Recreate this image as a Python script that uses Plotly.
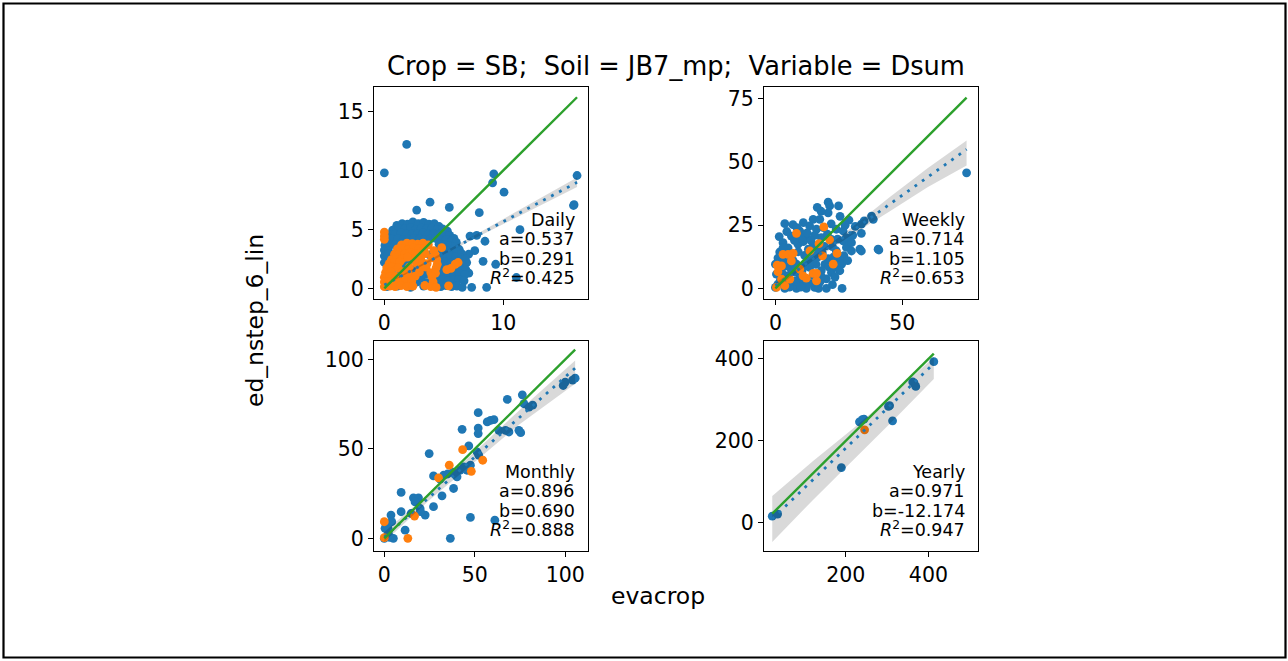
import plotly.graph_objects as go

# ---------------- data ----------------
panel_names = ["Daily", "Weekly", "Monthly", "Yearly"]
fit_a = [0.537, 0.714, 0.896, 0.971]
fit_b = [0.291, 1.105, 0.690, -12.174]
fit_r2 = [0.425, 0.653, 0.888, 0.947]

daily_blue = [
    (1.88, 12.2), (0.0, 9.8), (9.2, 9.7), (9.1, 8.95), (10.06, 8.16), (16.2, 9.57),
    (15.9, 7.03), (15.95, 7.1), (3.84, 7.31), (2.72, 6.64), (5.46, 6.87), (7.98, 6.42),
    (11.4, 4.98), (7.2, 4.44), (7.76, 4.5), (8.46, 4.0), (7.6, 3.2), (8.3, 2.3),
    (9.36, 2.05), (11.1, 0.93), (8.6, 0.1), (7.34, 0.1), (7.09, 2.9), (6.92, 2.19),
    (1.05, 5.35), (1.5, 5.5), (1.95, 5.45), (2.4, 5.65), (2.85, 5.5), (3.3, 5.6),
    (3.75, 5.45), (4.2, 5.5), (4.6, 5.25),
    (0.7, 4.95), (1.2, 5.1), (1.7, 5.05), (2.2, 5.15), (2.65, 5.0), (3.1, 5.1),
    (3.55, 5.05), (4.0, 5.1), (4.45, 5.0), (4.9, 5.05), (5.3, 4.85),
    (0.45, 4.55), (0.9, 4.6), (1.4, 4.7), (1.85, 4.6), (2.35, 4.65), (2.8, 4.6),
    (3.25, 4.7), (3.7, 4.6), (4.15, 4.65), (4.6, 4.6), (5.05, 4.55), (5.5, 4.5), (5.85, 4.25),
    (0.25, 4.1), (0.7, 4.2), (1.15, 4.25), (1.6, 4.15), (2.05, 4.2), (2.5, 4.25),
    (2.95, 4.2), (3.4, 4.15), (3.85, 4.2), (4.3, 4.25), (4.75, 4.1), (5.2, 4.15),
    (5.65, 4.05), (6.05, 3.9),
    (0.05, 3.65), (0.4, 3.75), (0.85, 3.7), (4.6, 3.75), (5.05, 3.7), (5.5, 3.6),
    (5.95, 3.55), (6.3, 3.3),
    (0.0, 3.25), (0.35, 3.2), (4.75, 3.2), (5.2, 3.25), (5.65, 3.15), (6.1, 3.1), (6.5, 2.95),
    (0.0, 2.75), (4.65, 2.7), (5.1, 2.65), (5.55, 2.75), (6.0, 2.65), (6.45, 2.6), (6.8, 2.5),
    (0.0, 2.2), (4.7, 2.2), (5.15, 2.25), (5.6, 2.15), (6.05, 2.2), (6.5, 2.1),
    (4.6, 1.7), (5.05, 1.65), (5.5, 1.75), (5.95, 1.7), (6.4, 1.65), (6.85, 1.6), (7.1, 1.3),
    (4.5, 1.2), (4.95, 1.25), (5.4, 1.15), (5.85, 1.2), (6.3, 1.25), (6.75, 1.15),
    (4.45, 0.7), (4.9, 0.75), (5.35, 0.65), (5.8, 0.7), (6.25, 0.75), (6.7, 0.65),
    (0.2, 0.15), (1.1, 0.2), (2.2, 0.1), (3.3, 0.2), (4.3, 0.2), (4.75, 0.15),
    (5.2, 0.25), (5.65, 0.15), (6.1, 0.2), (6.55, 0.1),
    (1.25, 1.05), (2.75, 0.55), (3.45, 1.2), (2.2, 2.45), (3.8, 2.85), (1.7, 2.0),
    (3.0, 3.1), (0.6, 1.4), (3.1, 0.9), (3.6, 0.5), (2.4, 1.6), (0.3, 2.9),
]
daily_orange = [
    (0.0, 4.16), (0.0, 4.44), (0.0, 4.78),
    (1.45, 3.7), (1.9, 3.85), (2.35, 3.8), (2.8, 3.75), (3.25, 3.85), (3.7, 3.7), (4.82, 3.46),
    (1.1, 3.35), (1.55, 3.4), (2.0, 3.3), (2.45, 3.45), (2.9, 3.35), (3.35, 3.4), (4.15, 3.2),
    (0.85, 2.9), (1.25, 3.0), (1.7, 2.9), (2.15, 3.05), (2.6, 2.95), (3.45, 2.95), (4.3, 2.85),
    (0.6, 2.45), (1.05, 2.6), (1.5, 2.5), (1.95, 2.65), (2.6, 2.55), (3.05, 2.6),
    (4.0, 2.6), (4.4, 2.45),
    (0.4, 2.1), (0.85, 2.2), (1.3, 2.25), (2.7, 2.15), (3.2, 2.2), (3.6, 2.1),
    (4.45, 2.05), (6.2, 2.2), (5.95, 2.05),
    (0.2, 1.75), (0.65, 1.8), (1.15, 1.75), (2.1, 1.8), (3.0, 1.75), (3.5, 1.8),
    (4.35, 1.75), (5.6, 1.7), (5.25, 1.6),
    (0.1, 1.35), (0.55, 1.4), (1.55, 1.4), (2.0, 1.35), (2.95, 1.4), (3.9, 1.35), (4.3, 1.3),
    (0.0, 0.95), (0.45, 1.0), (0.9, 1.05), (1.7, 0.95), (2.15, 1.0), (2.6, 1.05),
    (4.0, 1.0),
    (0.0, 0.55), (0.4, 0.6), (0.85, 0.65), (1.3, 0.55), (1.8, 0.6), (2.3, 0.6),
    (4.1, 0.55),
    (0.0, 0.15), (0.45, 0.2), (0.9, 0.15), (1.4, 0.25), (1.9, 0.15), (2.4, 0.2),
    (3.4, 0.25), (3.9, 0.15), (4.35, 0.1), (5.4, 0.22),
]

weekly_blue = [
    (20.8, 34.1), (21.4, 32.6), (24.9, 32.6), (20.8, 29.9), (14.9, 27.3), (17.5, 27.3),
    (3.7, 25.6), (6.9, 25.2), (13.5, 24.7), (16.2, 23.4), (24.0, 23.4), (26.7, 22.7),
    (9.6, 22.7), (6.3, 20.7), (12.2, 20.7), (18.1, 20.1), (22.1, 19.4), (26.7, 18.8),
    (29.3, 18.1), (28.0, 16.2), (33.3, 15.5), (40.5, 15.5), (3.0, 18.1), (8.9, 17.5),
    (14.9, 17.1), (19.4, 16.6), (24.0, 14.9), (1.7, 14.4), (6.3, 13.8), (11.5, 13.1),
    (16.8, 12.5), (20.8, 11.8), (25.4, 11.2), (0.0, 9.6), (4.3, 8.9), (8.3, 9.6),
    (13.5, 8.3), (18.1, 7.0), (22.1, 6.3), (24.0, 8.3), (0.4, 5.7), (5.0, 5.1),
    (9.6, 4.4), (14.9, 5.1), (20.1, 3.8), (1.0, 1.7), (6.3, 1.0), (10.9, 2.1),
    (15.5, 0.4), (20.1, 0.0), (26.3, 0.0), (0.0, 0.4), (3.7, 0.0), (8.3, 0.0), (12.2, 0.0),
    (37.9, 28.6), (38.6, 27.3), (35.0, 26.7), (33.9, 25.4), (33.9, 21.8), (28.0, 20.1),
    (30.0, 18.1), (30.0, 14.8), (33.9, 14.8), (40.8, 15.2), (26.1, 9.6), (25.4, 7.0),
    (75.4, 45.7), (11.0, 26.0), (8.5, 24.0), (19.0, 24.0), (15.5, 21.0), (11.0, 18.5),
    (17.0, 15.0), (2.5, 11.5), (7.0, 11.0), (13.0, 11.0), (10.5, 7.0), (16.0, 9.5),
    (19.5, 9.5), (2.5, 6.5), (7.5, 6.5), (12.0, 4.0), (17.5, 2.5), (4.0, 3.0),
    (22.5, 16.5), (27.0, 13.0), (22.0, 25.5), (18.0, 30.5), (13.0, 15.5), (5.0, 16.0),
    (1.5, 20.5), (4.5, 22.5), (10.0, 20.0), (14.0, 19.0), (20.5, 21.5), (24.5, 19.5),
    (23.0, 12.5), (18.5, 14.0), (15.0, 13.0), (9.0, 14.5), (4.0, 11.0), (1.0, 12.0),
    (6.0, 8.0), (11.5, 9.0), (14.5, 10.5), (21.0, 8.5), (23.5, 4.5), (18.0, 5.0),
    (8.0, 3.0), (13.5, 2.0), (2.0, 3.5), (5.5, 0.5), (10.0, 0.5), (17.0, 0.0),
    (22.5, 1.5), (27.5, 25.0), (25.5, 28.5), (16.5, 32.0), (12.5, 22.0), (7.5, 19.0),
    (3.0, 16.0), (28.5, 11.0), (30.5, 21.0), (31.5, 24.5), (29.0, 27.0),
]
weekly_orange = [
    (19.1, 24.3), (8.3, 21.8), (17.2, 17.7), (21.4, 19.2), (13.6, 14.8), (3.0, 13.5),
    (5.0, 13.5), (7.0, 13.9), (18.6, 12.9), (24.3, 13.9), (22.8, 9.6), (0.7, 9.2),
    (2.4, 8.9), (9.6, 7.6), (14.9, 6.0), (12.2, 4.1), (16.2, 3.0), (1.0, 6.6),
    (2.4, 3.7), (3.7, 1.1), (0.4, 0.4), (5.7, 3.7), (16.2, 6.0), (6.3, 10.9), (10.9, 5.0),
]

monthly_blue = [
    (105.5, 89.6), (104.1, 88.5), (100.0, 87.4), (98.9, 85.5), (76.3, 80.3), (68.0, 77.7),
    (77.2, 75.3), (80.0, 73.4), (82.0, 74.5), (51.9, 70.3), (43.0, 61.0), (51.9, 61.7),
    (58.7, 66.0), (60.6, 66.4), (56.9, 65.1), (51.9, 58.6), (63.3, 60.4), (67.0, 60.4),
    (68.9, 59.5), (74.4, 60.4), (75.4, 59.1), (24.8, 47.4), (46.7, 51.7), (51.3, 48.3),
    (52.2, 46.5), (47.6, 40.9), (43.9, 40.0), (42.0, 38.1), (45.7, 38.1), (40.2, 34.4),
    (32.8, 35.3), (27.2, 34.9), (30.9, 33.1), (38.3, 27.9), (31.9, 23.8), (27.2, 17.7),
    (9.3, 25.7), (16.1, 22.7), (18.9, 22.7), (17.0, 20.4), (19.8, 16.7), (22.6, 13.0),
    (14.8, 13.9), (9.3, 14.9), (3.7, 13.0), (4.1, 9.3), (0.4, 5.6), (2.2, 2.8),
    (5.0, 0.0), (11.5, 4.6), (0.0, 0.0), (1.5, 1.0), (3.0, 0.5), (47.6, 11.7),
    (61.1, 10.2), (36.5, 0.0), (35.0, 36.0), (38.0, 37.0), (20.0, 15.0), (2.0, 6.0),
]
monthly_orange = [
    (43.3, 49.6), (35.9, 40.9), (54.4, 43.7), (48.1, 37.5), (30.0, 33.8),
    (16.7, 12.5), (0.0, 9.3), (0.0, 0.4), (13.0, 0.0),
]

yearly_blue = [
    (22.0, 16.0), (35.0, 21.0), (189.3, 134.7), (233.1, 246.5), (240.0, 252.0),
    (244.0, 253.0), (303.3, 284.1), (306.0, 286.0), (313.2, 249.0), (362.0, 344.0),
    (365.3, 341.2), (369.4, 333.0), (413.0, 393.5),
]
yearly_orange = [(245.5, 226.9)]

# confidence band of the fitted line: x, lower, upper
daily_band = ([0.0, 8.0, 16.2], [0.25, 4.45, 8.6], [0.33, 4.75, 9.4])
weekly_band = ([0.0, 15.0, 30.0, 45.0, 60.0, 75.4],
               [0.0, 11.0, 21.0, 30.4, 40.0, 48.6],
               [2.2, 12.6, 24.0, 36.0, 47.5, 58.5])
monthly_band = ([0.0, 25.0, 50.0, 75.0, 105.5],
                [-2.0, 21.5, 43.0, 64.0, 86.5],
                [3.5, 25.5, 48.5, 72.0, 99.5])
yearly_band = ([22.0, 120.0, 220.0, 320.0, 413.0],
               [-47.0, 55.0, 155.0, 255.0, 351.0],
               [65.0, 150.0, 232.0, 318.0, 405.0])

x_ranges = [[-0.87, 17.12], [-4.5, 79.9], [-5.7, 112.6], [2.0, 520.0]]
y_ranges = [[-0.9, 17.09], [-4.2, 79.7], [-7.25, 110.4], [-70.0, 444.0]]
x_ticks = [[0, 10], [0, 50], [0, 50, 100], [0, 200, 400]]
y_ticks = [[0, 5, 10, 15], [0, 25, 50, 75], [0, 50, 100], [0, 200, 400]]

title_text = "Crop = SB;  Soil = JB7_mp;  Variable = Dsum"
x_title = "evacrop"
y_title = "ed_nstep_6_lin"

# ---------------- figure ----------------
W, H = 1288, 661
BLUE, ORANGE, GREEN = "#1f77b4", "#ff7f0e", "#2ca02c"
FONT = "DejaVu Sans"

# axes boxes in pixels: (left, right, top, bottom)
boxes = [(374, 588, 87, 300), (764, 978, 87, 300),
         (374, 588, 342, 553), (764, 978, 342, 553)]

blues = [daily_blue, weekly_blue, monthly_blue, yearly_blue]
oranges = [daily_orange, weekly_orange, monthly_orange, yearly_orange]
bands = [daily_band, weekly_band, monthly_band, yearly_band]

fig = go.Figure()
layout = dict(
    width=W, height=H, margin=dict(l=0, r=0, t=0, b=0),
    paper_bgcolor="white", plot_bgcolor="white", showlegend=False,
    font=dict(family=FONT, color="black"),
)
annotations = []

for i in range(4):
    sfx = "" if i == 0 else str(i + 1)
    xa, ya = "x" + sfx, "y" + sfx
    l, r, t, b = boxes[i]
    common = dict(showline=True, mirror=True, linecolor="black", linewidth=1.2,
                  ticks="outside", ticklen=5, tickwidth=1.2, tickcolor="black",
                  showgrid=False, zeroline=False,
                  tickfont=dict(family=FONT, size=20.5, color="black"))
    layout["xaxis" + sfx] = dict(domain=[l / W, r / W], anchor=ya, range=x_ranges[i],
                                 tickvals=x_ticks[i], **common)
    layout["yaxis" + sfx] = dict(domain=[1 - b / H, 1 - t / H], anchor=xa, range=y_ranges[i],
                                 tickvals=y_ticks[i], **common)

    bx = [p[0] for p in blues[i]]
    by = [p[1] for p in blues[i]]
    ox = [p[0] for p in oranges[i]]
    oy = [p[1] for p in oranges[i]]
    fig.add_trace(go.Scatter(x=bx, y=by, mode="markers", xaxis=xa, yaxis=ya,
                             marker=dict(color=BLUE, size=8.8, line=dict(width=0))))
    fig.add_trace(go.Scatter(x=ox, y=oy, mode="markers", xaxis=xa, yaxis=ya,
                             marker=dict(color=ORANGE, size=8.8, line=dict(width=0))))

    band_x, band_lo, band_hi = bands[i]
    fig.add_trace(go.Scatter(x=band_x + band_x[::-1], y=band_hi + band_lo[::-1],
                             mode="lines", fill="toself", fillcolor="rgba(0,0,0,0.15)",
                             line=dict(width=0), xaxis=xa, yaxis=ya, hoverinfo="skip"))

    all_x = bx + ox
    x_lo, x_hi = min(all_x), max(all_x)
    fig.add_trace(go.Scatter(x=[x_lo, x_hi],
                             y=[fit_a[i] * x_lo + fit_b[i], fit_a[i] * x_hi + fit_b[i]],
                             mode="lines", xaxis=xa, yaxis=ya,
                             line=dict(color=BLUE, width=2.8, dash="2.8px,6.2px")))
    fig.add_trace(go.Scatter(x=[x_lo, x_hi], y=[x_lo, x_hi], mode="lines",
                             xaxis=xa, yaxis=ya, line=dict(color=GREEN, width=2.4)))

    # fit statistics, one line each, stacked up from the lower right corner
    lines = [panel_names[i], f"a={fit_a[i]:.3f}", f"b={fit_b[i]:.3f}",
             f"<i>R</i><sup>2</sup>={fit_r2[i]:.3f}"]
    for k, txt in enumerate(reversed(lines)):
        annotations.append(dict(text=txt, xref=xa + " domain", yref=ya + " domain",
                                x=1, y=0, xshift=-11, yshift=9 + 19.5 * k,
                                xanchor="right", yanchor="bottom",
                                align="right", showarrow=False,
                                font=dict(family=FONT, size=17.5, color="black")))

annotations.append(dict(text=title_text, xref="paper", yref="paper", x=676 / W, y=1 - 66 / H,
                        xanchor="center", yanchor="middle", showarrow=False,
                        font=dict(family=FONT, size=25.7, color="black")))
annotations.append(dict(text=x_title, xref="paper", yref="paper", x=658 / W, y=1 - 598 / H,
                        xanchor="center", yanchor="middle", showarrow=False,
                        font=dict(family=FONT, size=23.5, color="black")))
annotations.append(dict(text=y_title, xref="paper", yref="paper", x=255 / W, y=1 - 322 / H,
                        xanchor="center", yanchor="middle", showarrow=False, textangle=-90,
                        font=dict(family=FONT, size=23.5, color="black")))
layout["annotations"] = annotations
layout["shapes"] = [dict(type="rect", xref="paper", yref="paper",
                         x0=3.5 / W, x1=1285.5 / W, y0=1 - 659.5 / H, y1=1 - 3.5 / H,
                         line=dict(color="black", width=2.2), fillcolor="rgba(0,0,0,0)")]

fig.update_layout(**layout)
fig.write_html("out.html")
